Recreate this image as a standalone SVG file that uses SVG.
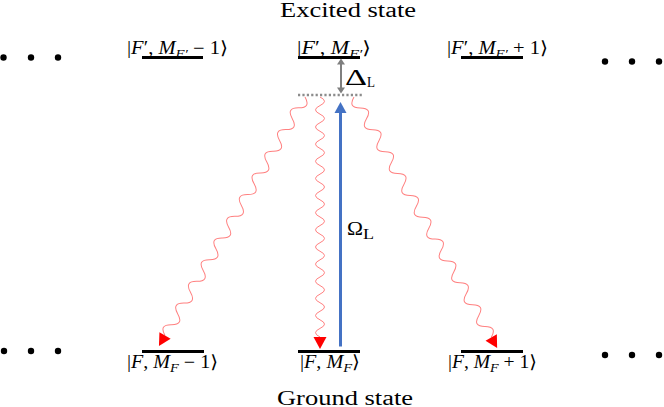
<svg xmlns="http://www.w3.org/2000/svg" width="664" height="407" viewBox="0 0 664 407">
<style>
.lvl{stroke:#000;stroke-width:3}
.wave{fill:none;stroke:#ff8080;stroke-width:1}
.ah{fill:#ff0000}
.t{font-family:"Liberation Serif","DejaVu Serif",serif;fill:#000}
.it{font-style:italic}
.dot{fill:#000}
</style>
<rect width="664" height="407" fill="#fff"/>
<text class="t" x="348" y="17" font-size="20" text-anchor="middle" textLength="136" lengthAdjust="spacingAndGlyphs">Excited state</text>
<text class="t" x="345" y="404.5" font-size="20" text-anchor="middle" textLength="136" lengthAdjust="spacingAndGlyphs">Ground state</text>
<g id="dots">
<circle class="dot" cx="3.5" cy="57.5" r="3.2"/><circle class="dot" cx="31" cy="57.5" r="3.2"/><circle class="dot" cx="58" cy="57.5" r="3.2"/>
<circle class="dot" cx="605" cy="61.5" r="3.2"/><circle class="dot" cx="632" cy="61.5" r="3.2"/><circle class="dot" cx="659" cy="61.5" r="3.2"/>
<circle class="dot" cx="4" cy="351" r="3.2"/><circle class="dot" cx="31" cy="351" r="3.2"/><circle class="dot" cx="58" cy="351" r="3.2"/>
<circle class="dot" cx="605" cy="355" r="3.2"/><circle class="dot" cx="632" cy="355" r="3.2"/><circle class="dot" cx="659" cy="355" r="3.2"/>
</g>
<g id="exc-minus">
<line class="lvl" x1="142" y1="57.5" x2="203" y2="57.5"/>
<text class="t" x="127" y="54" font-size="18" textLength="101" lengthAdjust="spacingAndGlyphs">|<tspan class="it">F</tspan>′, <tspan class="it">M</tspan><tspan class="it" font-size="13" dy="4">F′</tspan><tspan dy="-4"> − 1⟩</tspan></text>
</g>
<g id="exc-center">
<line class="lvl" x1="298" y1="57.5" x2="360" y2="57.5"/>
<text class="t" x="297" y="54" font-size="18" textLength="74" lengthAdjust="spacingAndGlyphs">|<tspan class="it">F</tspan>′, <tspan class="it">M</tspan><tspan class="it" font-size="13" dy="4">F′</tspan><tspan dy="-4">⟩</tspan></text>
</g>
<g id="exc-plus">
<line class="lvl" x1="461" y1="57.5" x2="523" y2="57.5"/>
<text class="t" x="447" y="54" font-size="18" textLength="101" lengthAdjust="spacingAndGlyphs">|<tspan class="it">F</tspan>′, <tspan class="it">M</tspan><tspan class="it" font-size="13" dy="4">F′</tspan><tspan dy="-4"> + 1⟩</tspan></text>
</g>
<g id="gnd-minus">
<line class="lvl" x1="142" y1="351.5" x2="204" y2="351.5"/>
<text class="t" x="127" y="368" font-size="18" textLength="91" lengthAdjust="spacingAndGlyphs">|<tspan class="it">F</tspan>, <tspan class="it">M</tspan><tspan class="it" font-size="13" dy="4">F</tspan><tspan dy="-4"> − 1⟩</tspan></text>
</g>
<g id="gnd-center">
<line class="lvl" x1="298" y1="351.5" x2="360" y2="351.5"/>
<text class="t" x="300" y="368" font-size="18" textLength="60" lengthAdjust="spacingAndGlyphs">|<tspan class="it">F</tspan>, <tspan class="it">M</tspan><tspan class="it" font-size="13" dy="4">F</tspan><tspan dy="-4">⟩</tspan></text>
</g>
<g id="gnd-plus">
<line class="lvl" x1="461" y1="351.5" x2="523" y2="351.5"/>
<text class="t" x="448" y="368" font-size="18" textLength="89" lengthAdjust="spacingAndGlyphs">|<tspan class="it">F</tspan>, <tspan class="it">M</tspan><tspan class="it" font-size="13" dy="4">F</tspan><tspan dy="-4"> + 1⟩</tspan></text>
</g>
<g id="virtual">
<line x1="298" y1="95" x2="362" y2="95" stroke="#8c8c8c" stroke-width="2.5" stroke-dasharray="2.2,2.2"/>
</g>
<g id="connectors">
<g id="detuning">
<line x1="341" y1="63" x2="341" y2="89" stroke="#7f7f7f" stroke-width="2"/>
<polygon points="337,64.5 341,58.5 345,64.5" fill="#7f7f7f"/>
<polygon points="337,87.5 341,93.5 345,87.5" fill="#7f7f7f"/>
<text class="t" x="345" y="85" font-size="23" textLength="22" lengthAdjust="spacingAndGlyphs">Δ</text>
<text class="t" x="367" y="86.5" font-size="15" textLength="8" lengthAdjust="spacingAndGlyphs">L</text>
</g>
<g id="laser">
<line x1="340.5" y1="346.5" x2="340.5" y2="112" stroke="#4472c4" stroke-width="3"/>
<polygon points="334.5,113 340.5,102 346.5,113" fill="#4472c4"/>
<text class="t" x="347" y="235" font-size="18" textLength="16" lengthAdjust="spacingAndGlyphs">Ω</text>
<text class="t" x="363" y="238.5" font-size="14" textLength="11" lengthAdjust="spacingAndGlyphs">L</text>
</g>
<g id="decay-center" transform="translate(320,97) rotate(90)">
<path class="wave" d="M0,0 q4.286,-9 8.571,0 t8.571,0 t8.571,0 t8.571,0 t8.571,0 t8.571,0 t8.571,0 t8.571,0 t8.571,0 t8.571,0 t8.571,0 t8.571,0 t8.571,0 t8.571,0 t8.571,0 t8.571,0 t8.571,0 t8.571,0 t8.571,0 t8.571,0 t8.571,0 t8.571,0 t8.571,0 t8.571,0 t8.571,0 t8.571,0 t8.571,0 t8.571,0"/>
<polygon class="ah" points="240,-6.5 252,0 240,6.5"/>
</g>
<g id="decay-left" transform="translate(305,97) rotate(120.4)">
<path class="wave" d="M0,0 q6.286,-11 12.573,0 t12.573,0 t12.573,0 t12.573,0 t12.573,0 t12.573,0 t12.573,0 t12.573,0 t12.573,0 t12.573,0 t12.573,0 t12.573,0 t12.573,0 t12.573,0 t12.573,0 t12.573,0 t12.573,0 t12.573,0 t12.573,0 t12.573,0 t12.573,0 t12.573,0"/>
<polygon class="ah" points="276.6,-6.5 288.6,0 276.6,6.5"/>
</g>
<g id="decay-right" transform="translate(354,97) rotate(60.3)">
<path class="wave" d="M0,0 q6.293,11 12.586,0 t12.586,0 t12.586,0 t12.586,0 t12.586,0 t12.586,0 t12.586,0 t12.586,0 t12.586,0 t12.586,0 t12.586,0 t12.586,0 t12.586,0 t12.586,0 t12.586,0 t12.586,0 t12.586,0 t12.586,0 t12.586,0 t12.586,0 t12.586,0 t12.586,0"/>
<polygon class="ah" points="276.9,-6.5 288.9,0 276.9,6.5"/>
</g>
</g>
</svg>
